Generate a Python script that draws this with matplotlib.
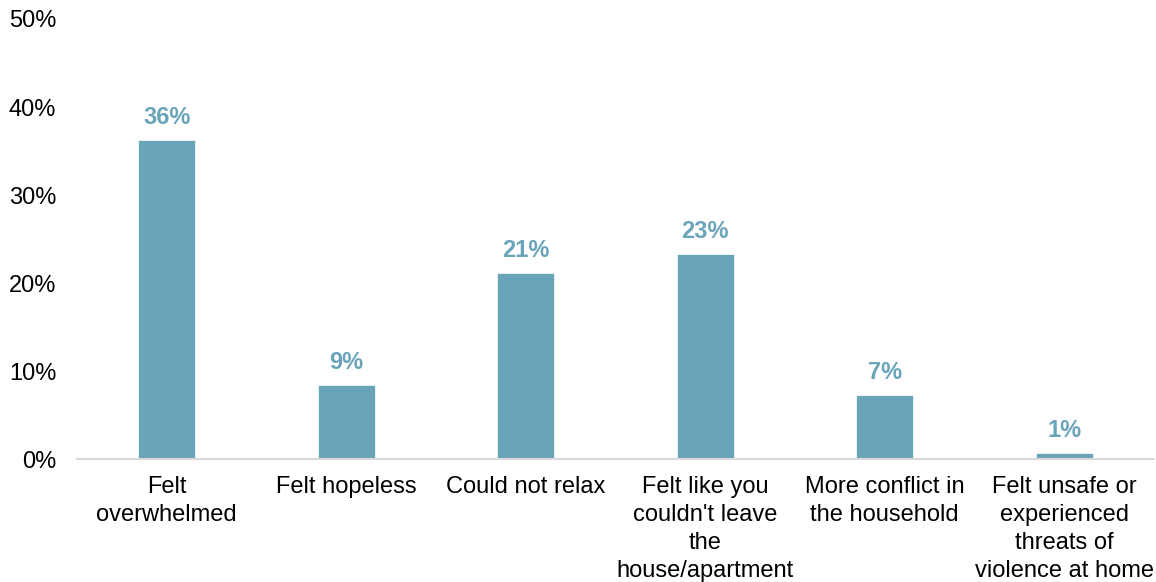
import matplotlib.pyplot as plt
import numpy as np

plt.rcParams['font.family'] = ['Liberation Sans', 'DejaVu Sans']

# Daten
categories = ["Felt\noverwhelmed", "Felt hopeless", "Could not relax",
              "Felt like you\ncouldn't leave\nthe\nhouse/apartment",
              "More conflict in\nthe household",
              "Felt unsafe or\nexperienced\nthreats of\nviolence at home"]
values = [36.2, 8.4, 21.1, 23.3, 7.3, 0.7]
labels = ["36%", "9%", "21%", "23%", "7%", "1%"]
yticks = [0, 10, 20, 30, 40, 50]

bar_color = "#69A4B9"

fig = plt.figure(figsize=(11.56, 5.82), dpi=100)
ax = fig.add_axes([77 / 1156, 1 - 459 / 582, 1077 / 1156, (459 - 19) / 582])

x = np.arange(len(categories))
bars = ax.bar(x, values, width=0.315, color=bar_color, edgecolor="white", linewidth=0.5)

# Werte über den Balken
for b, lab in zip(bars, labels):
    ax.annotate(lab, (b.get_x() + b.get_width() / 2, b.get_height()),
                xytext=(0, 8), textcoords="offset points",
                ha="center", va="bottom", fontsize=17, fontweight="bold", color=bar_color)

ax.set_xlim(-0.5, 5.5)
ax.set_ylim(0, 50)
ax.set_yticks(yticks)
ax.set_yticklabels([f"{t}%" for t in yticks], fontsize=17)
ax.set_xticks(x)
ax.set_xticklabels(categories, fontsize=17, linespacing=1.35, va="top")
ax.tick_params(axis="y", length=0, pad=15)
ax.tick_params(axis="x", length=0, pad=12)

for s in ["top", "right", "left"]:
    ax.spines[s].set_visible(False)
ax.spines["bottom"].set_color("#D9D9D9")
ax.spines["bottom"].set_linewidth(1.5)

fig.savefig("out.png", dpi=100)
